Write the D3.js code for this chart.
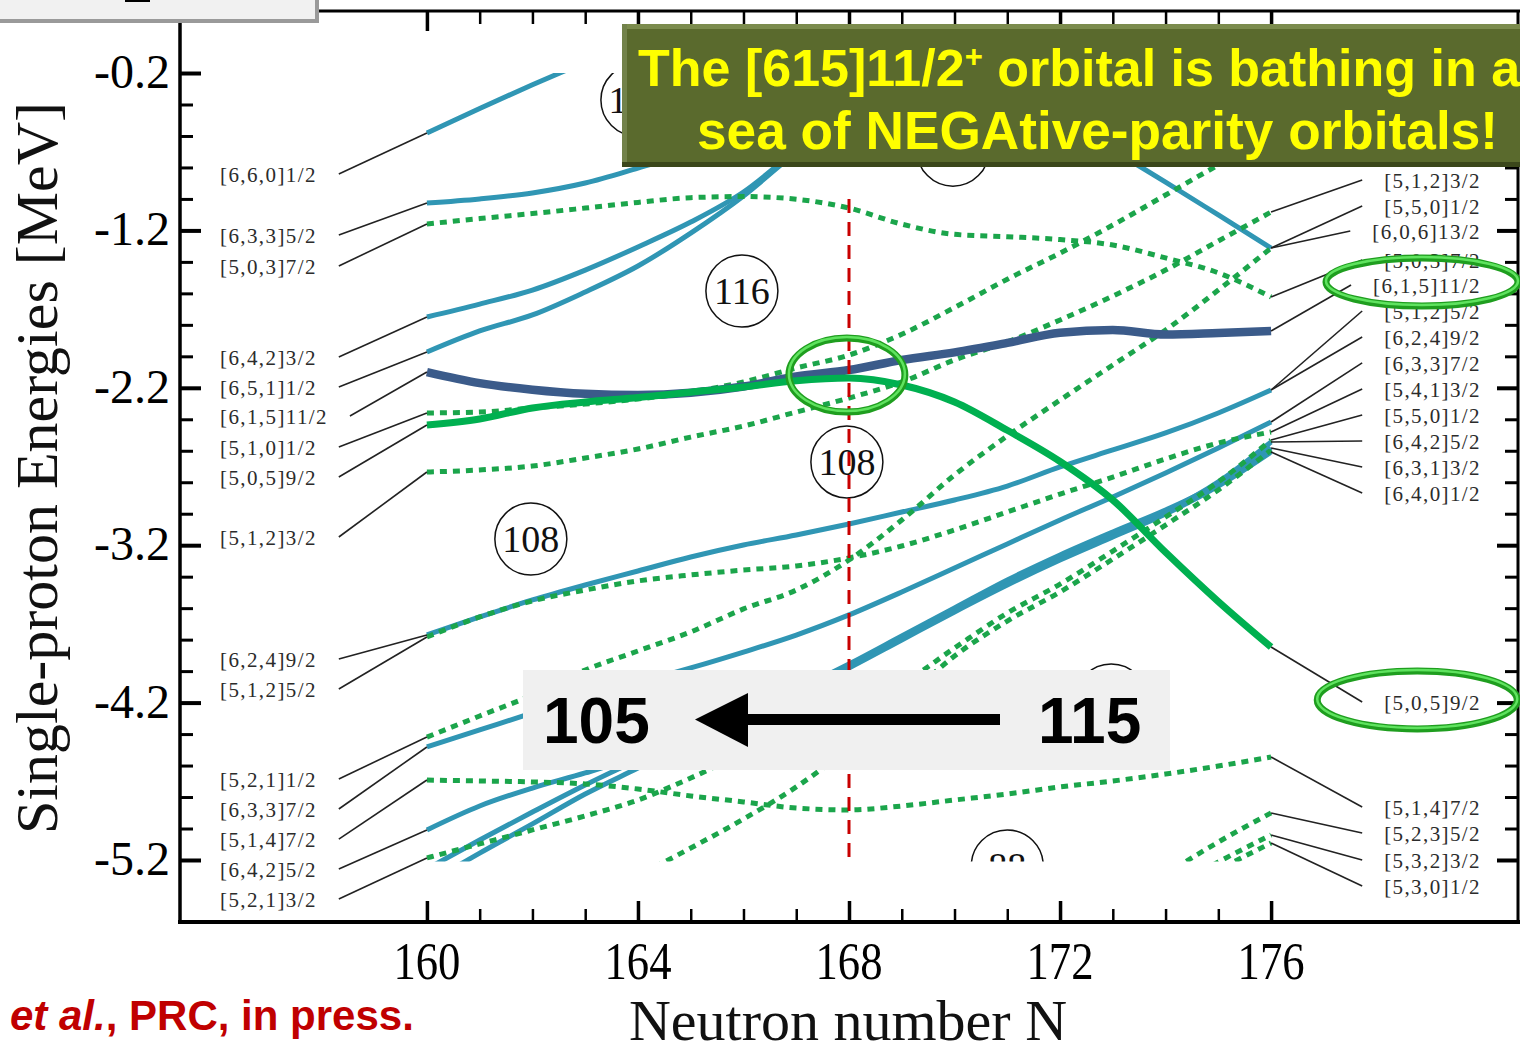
<!DOCTYPE html>
<html><head><meta charset="utf-8">
<script src="https://cdn.jsdelivr.net/npm/d3@7"></script>
<style>
html,body{margin:0;padding:0;background:#fff;}
svg{display:block;}
</style></head><body>
<svg id="chart" width="1520" height="1050"></svg>
<script>
// Single-proton levels (MeV) against neutron number N, as [N, E] pairs.
// Positive parity
const lv660_1  = [[160,-0.581],[161,-0.425],[162,-0.275],[163,-0.130],[164,0.01]];
const lv633_5  = [[160,-1.026],[161,-1.0],[162,-0.962],[163,-0.899],[164,-0.804],[165,-0.702],[166,-0.581],[167,-0.435],[168,-0.295],[169,-0.149],[170,-0.003]];
const lv642_3  = [[160,-1.750],[161,-1.668],[162,-1.579],[163,-1.452],[164,-1.305],[165,-1.147],[166,-0.956],[167,-0.689],[168,-0.435],[169,-0.18]];
const lv651_1  = [[160,-1.973],[161,-1.839],[162,-1.737],[163,-1.591],[164,-1.426],[165,-1.217],[166,-0.981],[167,-0.702],[168,-0.448],[169,-0.19]];
const lv606_13 = [[170,-0.067],[171,-0.276],[172,-0.486],[173,-0.689],[174,-0.893],[175,-1.102],[176,-1.312]];
const lv624_9  = [[160,-3.770],[161,-3.656],[162,-3.548],[163,-3.453],[164,-3.364],[165,-3.275],[166,-3.199],[167,-3.135],[168,-3.065],[169,-2.989],[170,-2.913],[171,-2.824],[172,-2.703],[173,-2.595],[174,-2.487],[175,-2.360],[176,-2.214]];
const lv633_7  = [[160,-4.482],[161,-4.374],[162,-4.266],[163,-4.164],[164,-4.075],[165,-3.980],[166,-3.879],[167,-3.771],[168,-3.643],[169,-3.497],[170,-3.345],[171,-3.192],[172,-3.040],[173,-2.894],[174,-2.741],[175,-2.582],[176,-2.417]];
const lv642_5  = [[160,-5.009],[161,-4.857],[162,-4.743],[163,-4.647],[164,-4.539],[165,-4.400],[166,-4.260],[167,-4.114],[168,-3.961],[169,-3.790],[170,-3.618],[171,-3.440],[172,-3.281],[173,-3.135],[174,-2.989],[175,-2.798],[176,-2.544]];
const lv631_3  = [[160,-5.257],[161,-5.073],[162,-4.895],[163,-4.723],[164,-4.565],[165,-4.419],[166,-4.273],[167,-4.120],[168,-3.955],[169,-3.777],[170,-3.599],[171,-3.421],[172,-3.262],[173,-3.116],[174,-2.976],[175,-2.810],[176,-2.582]];
const lv640_1  = [[160,-5.352],[161,-5.156],[162,-4.971],[163,-4.781],[164,-4.616],[165,-4.450],[166,-4.298],[167,-4.145],[168,-3.980],[169,-3.802],[170,-3.624],[171,-3.453],[172,-3.294],[173,-3.148],[174,-3.002],[175,-2.824],[176,-2.608]];
// The highlighted pair
const lv615_11 = [[160,-2.100],[161,-2.170],[162,-2.212],[163,-2.238],[164,-2.246],[165,-2.232],[166,-2.192],[167,-2.128],[168,-2.087],[169,-2.023],[170,-1.975],[171,-1.915],[172,-1.850],[173,-1.833],[174,-1.862],[175,-1.852],[176,-1.839]];
const lv505_9  = [[160,-2.436],[161,-2.398],[162,-2.328],[163,-2.290],[164,-2.262],[165,-2.228],[166,-2.195],[167,-2.155],[168,-2.138],[169,-2.182],[170,-2.290],[171,-2.470],[172,-2.668],[173,-2.913],[174,-3.245],[175,-3.558],[176,-3.847]];
// Negative parity
const lv503_7  = [[160,-1.159],[161,-1.125],[162,-1.093],[163,-1.058],[164,-1.022],[165,-0.992],[166,-0.985],[167,-1.002],[168,-1.058],[169,-1.160],[170,-1.225],[171,-1.240],[172,-1.258],[173,-1.293],[174,-1.375],[175,-1.470],[176,-1.623]];
const lv510_1  = [[160,-2.360],[161,-2.354],[162,-2.328],[163,-2.303],[164,-2.271],[165,-2.227],[166,-2.163],[167,-2.074],[168,-1.992],[169,-1.860],[170,-1.690],[171,-1.510],[172,-1.344],[173,-1.166],[174,-0.975],[175,-0.784],[176,-0.594]];
const lv512_3  = [[160,-2.735],[161,-2.722],[162,-2.697],[163,-2.646],[164,-2.589],[165,-2.513],[166,-2.443],[167,-2.354],[168,-2.265],[169,-2.163],[170,-2.023],[171,-1.909],[172,-1.769],[173,-1.617],[174,-1.452],[175,-1.267],[176,-1.083]];
const lv512_5  = [[160,-3.783],[161,-3.656],[162,-3.554],[163,-3.485],[164,-3.427],[165,-3.389],[166,-3.358],[167,-3.332],[168,-3.281],[169,-3.205],[170,-3.103],[171,-2.989],[172,-2.875],[173,-2.767],[174,-2.652],[175,-2.551],[176,-2.481]];
const lv521_1  = [[160,-4.419],[161,-4.285],[162,-4.152],[163,-3.993],[164,-3.872],[165,-3.751],[166,-3.605],[167,-3.485],[168,-3.294],[169,-3.040],[170,-2.754],[171,-2.506],[172,-2.278],[173,-2.055],[174,-1.833],[175,-1.579],[176,-1.312]];
const lv514_7  = [[160,-4.692],[161,-4.698],[162,-4.704],[163,-4.717],[164,-4.749],[165,-4.793],[166,-4.831],[167,-4.870],[168,-4.882],[169,-4.857],[170,-4.819],[171,-4.781],[172,-4.736],[173,-4.698],[174,-4.654],[175,-4.603],[176,-4.546]];
const lv521_3  = [[160,-5.187],[161,-5.098],[162,-5.009],[163,-4.920],[164,-4.819],[165,-4.679],[166,-4.520],[167,-4.361],[168,-4.234],[169,-4.082],[170,-3.853],[171,-3.631],[172,-3.447],[173,-3.237],[174,-3.021],[175,-2.798],[176,-2.532]];
const lv541_3  = [[160,-6.039],[161,-5.854],[162,-5.670],[163,-5.486],[164,-5.302],[165,-5.124],[166,-4.940],[167,-4.736],[168,-4.488],[169,-4.196],[170,-3.904],[171,-3.682],[172,-3.497],[173,-3.288],[174,-3.072],[175,-2.849],[176,-2.595]];
const lv523_5  = [[173,-5.55],[174,-5.295],[175,-5.086],[176,-4.901]];
const lv532_3  = [[173,-5.62],[174,-5.403],[175,-5.213],[176,-5.041]];
const lv530_1  = [[173,-5.68],[174,-5.454],[175,-5.264],[176,-5.092]];

const positiveLevels = [lv660_1, lv633_5, lv642_3, lv651_1, lv606_13, lv624_9, lv633_7, lv642_5, lv631_3, lv640_1];
const negativeLevels = [lv503_7, lv510_1, lv512_3, lv512_5, lv521_1, lv514_7, lv521_3, lv541_3, lv523_5, lv532_3, lv530_1];

// Nilsson labels at N = 160 (left) and N = 176 (right)
const leftLabels  = ["[6,6,0]1/2","[6,3,3]5/2","[5,0,3]7/2","[6,4,2]3/2","[6,5,1]1/2","[6,1,5]11/2","[5,1,0]1/2","[5,0,5]9/2","[5,1,2]3/2","[6,2,4]9/2","[5,1,2]5/2","[5,2,1]1/2","[6,3,3]7/2","[5,1,4]7/2","[6,4,2]5/2","[5,2,1]3/2"];
const leftLabelE  = [-0.842,-1.229,-1.426,-2.004,-2.195,-2.379,-2.576,-2.767,-3.148,-3.923,-4.114,-4.685,-4.876,-5.067,-5.257,-5.448];
const leftLevels  = [lv660_1, lv633_5, lv503_7, lv642_3, lv651_1, lv615_11, lv510_1, lv505_9, lv512_3, lv624_9, lv512_5, lv521_1, lv633_7, lv514_7, lv642_5, lv521_3];
const rightLabels = ["[5,1,2]3/2","[5,5,0]1/2","[6,0,6]13/2","[5,0,3]7/2","[6,1,5]11/2","[5,1,2]5/2","[6,2,4]9/2","[6,3,3]7/2","[5,4,1]3/2","[5,5,0]1/2","[6,4,2]5/2","[6,3,1]3/2","[6,4,0]1/2","[5,0,5]9/2","[5,1,4]7/2","[5,2,3]5/2","[5,3,2]3/2","[5,3,0]1/2"];
const rightLabelE = [-0.880,-1.045,-1.204,-1.388,-1.547,-1.712,-1.877,-2.042,-2.208,-2.373,-2.538,-2.703,-2.868,-4.196,-4.863,-5.028,-5.200,-5.365];
const rightLevels = [lv512_3, lv521_1, lv606_13, lv503_7, lv615_11, lv624_9, lv624_9, lv633_7, lv512_5, lv521_3, lv642_5, lv631_3, lv640_1, lv505_9, lv514_7, lv523_5, lv532_3, lv530_1];

// Shell-gap markers (numbers only where they can be read)
const gapN    = [163.98, 169.97, 165.97, 167.96, 161.97, 172.97, 171.0];
const gapE    = [-0.372, -0.690, -1.585, -2.671, -3.161, -4.183, -5.238];
const gapText = ["120", null, "116", "108", "108", null, "88"];

// Axis ticks
const xMajor = [160, 164, 168, 172, 176];
const xMinor = [161, 162, 163, 165, 166, 167, 169, 170, 171, 173, 174, 175];
const yMajor = [-0.2, -1.2, -2.2, -3.2, -4.2, -5.2];
const yMinor = [-0.4,-0.6,-0.8,-1.0,-1.4,-1.6,-1.8,-2.0,-2.4,-2.6,-2.8,-3.0,-3.4,-3.6,-3.8,-4.0,-4.4,-4.6,-4.8,-5.0];

// Highlight rings: [N, E] centres
const ringCentres = [[167.96,-2.119],[178.86,-1.528],[178.77,-4.183]];

const svg = d3.select('#chart');
const x = d3.scaleLinear().domain([155.32, 180.68]).range([180, 1518]);
const y = d3.scaleLinear().domain([-5.594, 0.194]).range([922, 11]);
const line = d3.line().x(d => x(d[0])).y(d => y(d[1])).curve(d3.curveMonotoneX);

const BLUE = '#3096b4', GREEN = '#1ba54b', DARK = '#3b5b8a', BRIGHT = '#00b050';
const serif = "'Liberation Serif','DejaVu Serif',serif";
const sans = "'Liberation Sans',Arial,sans-serif";

const defs = svg.append('defs');
defs.append('clipPath').attr('id', 'dataClip').append('rect')
  .attr('x', x(155.32)).attr('y', y(-0.2))
  .attr('width', x(180.68) - x(155.32)).attr('height', y(-5.21) - y(-0.2));

// ---- frame and ticks ----
const frame = svg.append('g');
function tickAxis(axis, tx, ty, vals, len, width) {
  const g = frame.append('g').attr('transform', `translate(${tx},${ty})`)
    .call(axis.tickValues(vals).tickSizeInner(-len).tickSizeOuter(0).tickFormat(''));
  g.select('.domain').remove();
  g.selectAll('line').attr('stroke', '#000').attr('stroke-width', width);
  return g;
}
tickAxis(d3.axisBottom(x), 0, 922, xMajor, 21, 3.5);
tickAxis(d3.axisBottom(x), 0, 922, xMinor, 13, 2.5);
tickAxis(d3.axisTop(x), 0, 11, xMajor, 20, 3.5);
tickAxis(d3.axisTop(x), 0, 11, xMinor, 13, 2.5);
tickAxis(d3.axisLeft(y), 180, 0, yMajor, 21, 4);
tickAxis(d3.axisLeft(y), 180, 0, yMinor, 13, 3);
tickAxis(d3.axisRight(y), 1518, 0, yMajor, 21, 4);
tickAxis(d3.axisRight(y), 1518, 0, yMinor, 13, 3);

frame.append('line').attr('x1', 180).attr('x2', 180).attr('y1', 11).attr('y2', 924).attr('stroke', '#000').attr('stroke-width', 3.5);
frame.append('line').attr('x1', 178).attr('x2', 1520).attr('y1', 922).attr('y2', 922).attr('stroke', '#000').attr('stroke-width', 4);
frame.append('line').attr('x1', 180).attr('x2', 1520).attr('y1', 11).attr('y2', 11).attr('stroke', '#000').attr('stroke-width', 3);
frame.append('line').attr('x1', 1518).attr('x2', 1518).attr('y1', 11).attr('y2', 922).attr('stroke', '#000').attr('stroke-width', 3);

// tick labels
svg.append('g').selectAll('text').data(yMajor).join('text')
  .attr('x', 170).attr('y', d => y(d) + 15).attr('text-anchor', 'end')
  .attr('font-family', serif).attr('font-size', 48).text(d => d.toFixed(1));
svg.append('g').selectAll('text').data(xMajor).join('text')
  .attr('transform', d => `translate(${x(d)},979) scale(0.86,1)`).attr('text-anchor', 'middle')
  .attr('font-family', serif).attr('font-size', 52).text(d => d);

// ---- data layer ----
const plot = svg.append('g').attr('clip-path', 'url(#dataClip)');

plot.selectAll('circle.gap').data(gapN).join('circle')
  .attr('cx', d => x(d)).attr('cy', (d, i) => y(gapE[i])).attr('r', 36)
  .attr('fill', 'none').attr('stroke', '#111').attr('stroke-width', 1.5);
plot.selectAll('text.gap').data(gapN.map((n, i) => i).filter(i => gapText[i])).join('text')
  .attr('x', i => x(gapN[i])).attr('y', i => y(gapE[i]) + 13).attr('text-anchor', 'middle')
  .attr('font-family', serif).attr('font-size', 38).attr('fill', '#111').text(i => gapText[i]);

plot.selectAll('path.pos').data(positiveLevels).join('path')
  .attr('d', line).attr('fill', 'none').attr('stroke', BLUE).attr('stroke-width', 5);
plot.selectAll('path.neg').data(negativeLevels).join('path')
  .attr('d', line).attr('fill', 'none').attr('stroke', GREEN).attr('stroke-width', 5)
  .attr('stroke-dasharray', '7 6');
plot.append('path').attr('d', line(lv615_11)).attr('fill', 'none').attr('stroke', DARK).attr('stroke-width', 8.5);
plot.append('path').attr('d', line(lv505_9)).attr('fill', 'none').attr('stroke', BRIGHT).attr('stroke-width', 7);

// ---- labels and leader lines ----
const lab = svg.append('g').attr('font-family', serif).attr('font-size', 21)
  .attr('fill', '#2b2b2b').attr('letter-spacing', 1.4);
leftLabels.forEach((t, i) => {
  const ty = y(leftLabelE[i]);
  const txt = lab.append('text').attr('x', 220).attr('y', ty + 8).text(t);
  const w = txt.node().getComputedTextLength();
  const lv = leftLevels[i][0];
  lab.append('line').attr('x1', 220 + w + 22).attr('y1', ty).attr('x2', x(lv[0])).attr('y2', y(lv[1]))
    .attr('stroke', '#222').attr('stroke-width', 1.6);
});
rightLabels.forEach((t, i) => {
  const ty = y(rightLabelE[i]);
  const txt = lab.append('text').attr('x', 1481).attr('y', ty + 8).attr('text-anchor', 'end').text(t);
  const w = txt.node().getComputedTextLength();
  const lv = rightLevels[i][rightLevels[i].length - 1];
  lab.append('line').attr('x1', x(lv[0])).attr('y1', y(lv[1])).attr('x2', 1481 - w - 22).attr('y2', ty)
    .attr('stroke', '#222').attr('stroke-width', 1.6);
});

// N = 168 marker
svg.append('line').attr('x1', x(168)).attr('x2', x(168)).attr('y1', y(-1.0)).attr('y2', y(-5.2))
  .attr('stroke', '#c80000').attr('stroke-width', 3).attr('stroke-dasharray', '14 9');

// highlight rings
const ringSize = [[58, 37], [96, 24], [100, 29]];
ringCentres.forEach((c, i) => {
  const g = svg.append('g');
  g.append('ellipse').attr('cx', x(c[0])).attr('cy', y(c[1])).attr('rx', ringSize[i][0]).attr('ry', ringSize[i][1])
    .attr('fill', 'none').attr('stroke', '#1f9e1f').attr('stroke-width', 7);
  g.append('ellipse').attr('cx', x(c[0])).attr('cy', y(c[1]) - 1).attr('rx', ringSize[i][0]).attr('ry', ringSize[i][1])
    .attr('fill', 'none').attr('stroke', '#5fe35f').attr('stroke-width', 2.5);
});

// ---- 115 -> 105 panel ----
const arrowBox = svg.append('g');
arrowBox.append('rect').attr('x', 523).attr('y', 670).attr('width', 647).attr('height', 100).attr('fill', '#f0f0f0');
arrowBox.append('text').attr('x', 543).attr('y', 743).attr('font-family', sans).attr('font-weight', 'bold')
  .attr('font-size', 64).attr('fill', '#000').text('105');
arrowBox.append('text').attr('x', 1038).attr('y', 743).attr('font-family', sans).attr('font-weight', 'bold')
  .attr('font-size', 64).attr('fill', '#000').text('115');
arrowBox.append('rect').attr('x', 745).attr('y', 714).attr('width', 255).attr('height', 11).attr('fill', '#000');
arrowBox.append('path').attr('d', 'M695,719.5 L748,693 L748,747 Z').attr('fill', '#000');

// ---- headline box ----
const head = svg.append('g');
head.append('rect').attr('x', 622).attr('y', 24).attr('width', 900).attr('height', 143).attr('fill', '#5a6a2d');
head.append('rect').attr('x', 622).attr('y', 24).attr('width', 900).attr('height', 5).attr('fill', '#7b8b4d');
head.append('rect').attr('x', 622).attr('y', 24).attr('width', 5).attr('height', 143).attr('fill', '#72824a');
head.append('rect').attr('x', 622).attr('y', 162).attr('width', 900).attr('height', 5).attr('fill', '#3b471b');
const h1 = head.append('text').attr('x', 638).attr('y', 86).attr('font-family', sans).attr('font-weight', 'bold')
  .attr('font-size', 52).attr('fill', '#ffff00');
h1.append('tspan').text('The [615]11/2');
h1.append('tspan').attr('font-size', 31).attr('dy', -19).text('+');
h1.append('tspan').attr('dy', 19).text(' orbital is bathing in a');
head.append('text').attr('x', 697).attr('y', 149).attr('font-family', sans).attr('font-weight', 'bold')
  .attr('font-size', 53.2).attr('fill', '#ffff00').text('sea of NEGAtive-parity orbitals!');

// corner panel
const corner = svg.append('g');
corner.append('rect').attr('x', -4).attr('y', -4).attr('width', 323).attr('height', 27).attr('fill', '#9a9a9a');
corner.append('rect').attr('x', -4).attr('y', -4).attr('width', 319).attr('height', 23).attr('fill', '#f1f1f1');
corner.append('rect').attr('x', 125).attr('y', 0).attr('width', 25).attr('height', 2).attr('fill', '#000');

// ---- titles ----
svg.append('text').attr('transform', 'translate(57,468) rotate(-90)').attr('text-anchor', 'middle')
  .attr('font-family', serif).attr('font-size', 60).attr('fill', '#111').text('Single-proton Energies [MeV]');
svg.append('text').attr('x', 848).attr('y', 1040).attr('text-anchor', 'middle')
  .attr('font-family', serif).attr('font-size', 58).attr('fill', '#111').text('Neutron number N');

const cite = svg.append('text').attr('x', 10).attr('y', 1030).attr('font-family', sans).attr('font-weight', 'bold')
  .attr('font-size', 42).attr('fill', '#c00000');
cite.append('tspan').attr('font-style', 'italic').text('et al.');
cite.append('tspan').text(', PRC, in press.');
</script>
</body></html>
